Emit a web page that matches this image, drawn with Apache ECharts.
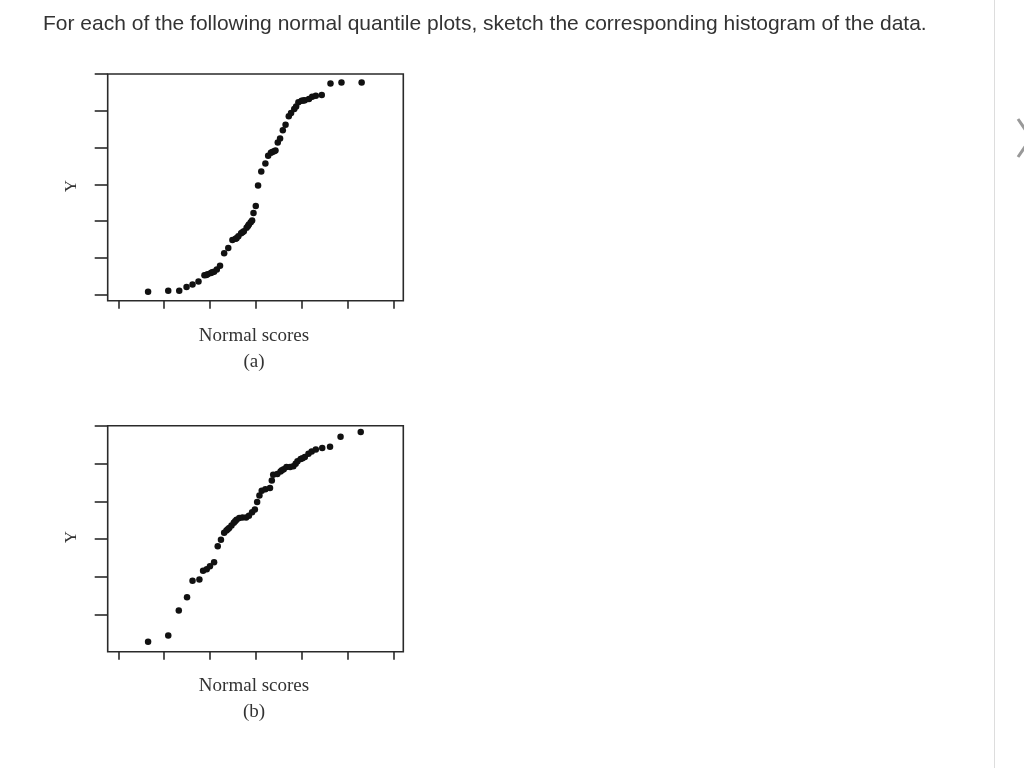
<!DOCTYPE html>
<html>
<head>
<meta charset="utf-8">
<script src="https://cdn.jsdelivr.net/npm/echarts@6/dist/echarts.min.js"></script>
<style>html,body{margin:0;padding:0;background:#fff}#c{width:1024px;height:768px}</style>
</head>
<body>
<div id="c"></div>
<script>
// Normal scores (x) and Y values for plot (a)
const scoresA = [-2.35,-1.91,-1.67,-1.51,-1.38,-1.25,-1.12,-1.08,-1.05,-0.98,-0.95,-0.91,-0.85,-0.78,-0.69,-0.60,-0.51,-0.44,-0.42,-0.38,-0.32,-0.29,-0.26,-0.20,-0.17,-0.15,-0.11,-0.08,-0.05,0.00,0.05,0.12,0.21,0.27,0.33,0.36,0.40,0.43,0.48,0.53,0.59,0.65,0.72,0.77,0.84,0.88,0.93,1.00,1.04,1.07,1.16,1.23,1.31,1.44,1.63,1.87,2.31];
const yA = [0.08,0.11,0.11,0.21,0.28,0.36,0.53,0.54,0.56,0.59,0.61,0.63,0.69,0.79,1.13,1.27,1.49,1.52,1.54,1.59,1.67,1.70,1.73,1.82,1.87,1.91,1.97,2.02,2.22,2.41,2.97,3.35,3.57,3.78,3.86,3.88,3.90,3.92,4.14,4.25,4.47,4.62,4.85,4.94,5.05,5.12,5.23,5.27,5.28,5.29,5.32,5.38,5.41,5.43,5.74,5.77,5.77];
// Normal scores (x) and Y values for plot (b)
const scoresB = [-2.35,-1.91,-1.68,-1.50,-1.38,-1.23,-1.15,-1.07,-1.00,-0.91,-0.83,-0.76,-0.69,-0.64,-0.61,-0.58,-0.53,-0.48,-0.45,-0.42,-0.36,-0.29,-0.21,-0.15,-0.08,-0.02,0.03,0.08,0.13,0.21,0.31,0.35,0.38,0.47,0.54,0.57,0.61,0.67,0.75,0.82,0.87,0.91,0.98,1.02,1.07,1.15,1.22,1.31,1.45,1.62,1.85,2.29];
const yB = [0.28,0.45,1.11,1.46,1.90,1.93,2.16,2.20,2.28,2.39,2.81,2.98,3.17,3.23,3.26,3.29,3.36,3.43,3.47,3.51,3.56,3.57,3.57,3.62,3.71,3.78,3.98,4.15,4.28,4.32,4.35,4.55,4.70,4.72,4.79,4.82,4.85,4.91,4.91,4.93,4.99,5.06,5.12,5.14,5.17,5.26,5.32,5.37,5.41,5.44,5.71,5.83];
const xTicks = [-3,-2,-1,0,1,2,3];
const yTicksA = [0,1,2,3,4,5,6];
const yTicksB = [1,2,3,4,5,6];

const chart = echarts.init(document.getElementById('c'));
const pair = (xs, ys) => xs.map((v, i) => [v, ys[i]]);
const xAxisBase = (gi) => ({
  type: 'value', gridIndex: gi, min: -3.231, max: 3.219, position: 'bottom',
  axisLine: {show: false, onZero: false}, splitLine: {show: false},
  axisLabel: {show: false},
  axisTick: {show: true, inside: false, length: 8, customValues: xTicks, lineStyle: {color: '#2a2a2a', width: 1.6}}
});
const yAxisBase = (gi, min, ticks) => ({
  type: 'value', gridIndex: gi, min: min, max: 6, position: 'left',
  axisLine: {show: false, onZero: false}, splitLine: {show: false},
  axisLabel: {show: false},
  axisTick: {show: true, inside: false, length: 13, customValues: ticks, lineStyle: {color: '#2a2a2a', width: 1.6}}
});
const serif = '"Liberation Serif", "Times New Roman", serif';
const dot = {color: '#111', opacity: 1};
chart.setOption({
  animation: false,
  grid: [
    {left: 107.7, top: 74, width: 295.6, height: 226.7, show: true, borderColor: '#2a2a2a', borderWidth: 1.6, backgroundColor: 'transparent'},
    {left: 107.7, top: 425.7, width: 295.6, height: 226, show: true, borderColor: '#2a2a2a', borderWidth: 1.6, backgroundColor: 'transparent'}
  ],
  xAxis: [xAxisBase(0), xAxisBase(1)],
  yAxis: [yAxisBase(0, -0.16, yTicksA), yAxisBase(1, 0.02, yTicksB)],
  series: [
    {type: 'scatter', xAxisIndex: 0, yAxisIndex: 0, data: pair(scoresA, yA), symbolSize: 6.5, itemStyle: dot},
    {type: 'scatter', xAxisIndex: 1, yAxisIndex: 1, data: pair(scoresB, yB), symbolSize: 6.5, itemStyle: dot}
  ],
  graphic: [
    {type: 'text', x: 43, y: 24, style: {text: 'For each of the following normal quantile plots, sketch the corresponding histogram of the data.', font: '21px "Liberation Sans", Helvetica, Arial, sans-serif', fill: '#333', textVerticalAlign: 'middle'}},
    {type: 'text', x: 254, y: 336, style: {text: 'Normal scores', font: '19px ' + serif, fill: '#333', textAlign: 'center', textVerticalAlign: 'middle'}},
    {type: 'text', x: 254, y: 362, style: {text: '(a)', font: '19px ' + serif, fill: '#333', textAlign: 'center', textVerticalAlign: 'middle'}},
    {type: 'text', x: 254, y: 686, style: {text: 'Normal scores', font: '19px ' + serif, fill: '#333', textAlign: 'center', textVerticalAlign: 'middle'}},
    {type: 'text', x: 254, y: 712, style: {text: '(b)', font: '19px ' + serif, fill: '#333', textAlign: 'center', textVerticalAlign: 'middle'}},
    {type: 'text', x: 72, y: 186, rotation: Math.PI / 2, style: {text: 'Y', font: '17px ' + serif, fill: '#333', textAlign: 'center', textVerticalAlign: 'middle'}},
    {type: 'text', x: 72, y: 537, rotation: Math.PI / 2, style: {text: 'Y', font: '17px ' + serif, fill: '#333', textAlign: 'center', textVerticalAlign: 'middle'}},
    {type: 'line', shape: {x1: 994.5, y1: 0, x2: 994.5, y2: 768}, style: {stroke: '#ddd', lineWidth: 1}},
    {type: 'polyline', shape: {points: [[1018, 119], [1031, 138], [1018, 157]]}, style: {stroke: '#999', lineWidth: 3, fill: null}}
  ]
});
</script>
</body>
</html>
